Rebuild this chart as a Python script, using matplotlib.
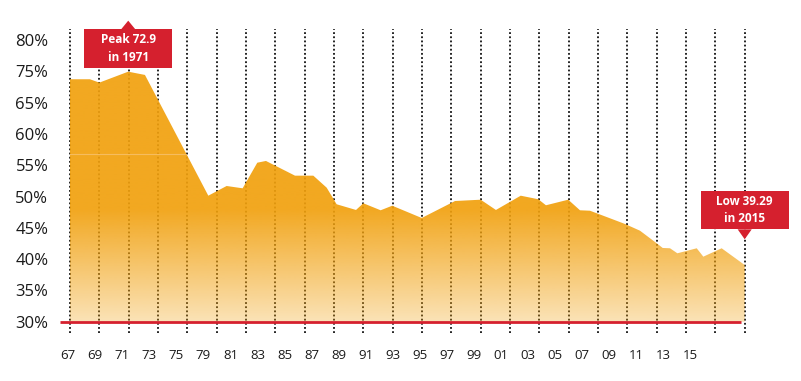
import numpy as np
import matplotlib
matplotlib.use("Agg")
import matplotlib.pyplot as plt
from matplotlib.patches import Polygon, Rectangle

plt.rcParams['font.family'] = ['Open Sans', 'DejaVu Sans']

# outline of the area (position on the x grid, value in %)
pos = [0, 1.36, 2.0, 3.97, 5.11, 9.43, 10.68, 11.77, 12.77, 13.36,
       15.34, 16.59, 17.50, 18.18, 19.50, 20.0, 21.18, 21.97, 23.98, 26.25,
       28.0, 29.04, 30.73, 31.93, 32.45, 33.97, 34.77, 35.45, 36.82, 37.84,
       38.86, 40.0, 40.41, 40.91, 41.41, 42.73, 43.18, 44.43, 46.0]
vals = [68.73, 68.73, 68.19, 69.94, 69.42, 50.13, 51.68, 51.31, 55.40, 55.68,
        53.33, 53.33, 51.41, 48.76, 47.85, 48.92, 47.80, 48.53, 46.57, 49.28,
        49.49, 47.85, 50.13, 49.56, 48.60, 49.49, 47.80, 47.73, 46.52, 45.61,
        44.54, 42.53, 41.78, 41.73, 40.93, 41.73, 40.39, 41.73, 39.06]

year_labels = ["67", "69", "71", "73", "75", "79", "81", "83", "85", "87", "89", "91",
               "93", "95", "97", "99", "01", "03", "05", "07", "09", "11", "13", "15"]
y_ticks = [30, 35, 40, 45, 50, 55, 60, 65, 70, 75]
y_labels = ["30%", "35%", "40%", "45%", "50%", "55%", "60%", "65%", "75%", "80%"]

peak_text = "Peak 72.9\nin 1971"
low_text = "Low 39.29\nin 2015"

red = "#d5202e"

fig = plt.figure(figsize=(8.01, 3.81), dpi=100)
ax = fig.add_axes([0.06908, 0.1063, 0.9247, 0.84622])

# dotted verticals
ax.vlines(np.arange(0, 47, 2), 28.2, 76.7, colors="#111111",
          linestyles=(0, (1, 1.3)), linewidth=1.3, zorder=1)

# area with gradient
xs = np.r_[pos[0], pos, pos[-1]]
ys = np.r_[30, vals, 30]
area = Polygon(np.column_stack([xs, ys]), closed=True, facecolor="none", edgecolor="none")
ax.add_patch(area)

levels = np.linspace(30, 75, 400)
grad = np.zeros((len(levels), 1, 4))
grad[:, 0, 0] = 241 / 255
grad[:, 0, 1] = 160 / 255
grad[:, 0, 2] = 13 / 255
grad[:, 0, 3] = np.clip(0.3 + (levels - 30) / 18 * 0.62, 0.3, 0.92)
img = ax.imshow(grad, extent=[0, 46, 30, 75], origin="lower", aspect="auto",
                interpolation="bilinear", zorder=2)
img.set_clip_path(area)

faint, = ax.plot([0, 46], [56.75, 56.75], color="#f6bc5e", lw=0.8, zorder=3)
faint.set_clip_path(area)

# red base line
ax.plot([-0.68, 45.73], [30, 30], color=red, lw=2, zorder=4, solid_capstyle="butt")


def callout(x, y0, y1, tip, text):
    ax.add_patch(Rectangle((x - 2.99, y0), 5.98, y1 - y0, facecolor=red,
                           edgecolor="none", zorder=5, clip_on=False))
    base = y1 if tip > y1 else y0
    ax.add_patch(Polygon([[x - 0.48, base], [x + 0.48, base], [x, tip]], closed=True,
                         facecolor=red, edgecolor="none", zorder=5, clip_on=False))
    ax.text(x, (y0 + y1) / 2, text, ha="center", va="center", color="white",
            fontsize=8.5, fontweight="bold", linespacing=1.45, zorder=6)


i_peak = int(np.argmax(vals))
callout(pos[i_peak], 70.58, 76.72, 78.09, peak_text)
callout(pos[-1], 44.76, 50.88, 43.17, low_text)

ax.set_xlim(-1, 49.5)
ax.set_ylim(27, 78.5)
ax.set_yticks(y_ticks)
ax.set_yticklabels(y_labels)
ax.set_xticks(-0.12 + 1.8443 * np.arange(len(year_labels)))
ax.set_xticklabels(year_labels)
ax.tick_params(axis="y", length=0, pad=5, labelsize=12, labelcolor="#1a1a1a")
ax.tick_params(axis="x", length=0, pad=6, labelsize=9.5, labelcolor="#1a1a1a")
for s in ax.spines.values():
    s.set_visible(False)

fig.savefig("out.png", dpi=100)
